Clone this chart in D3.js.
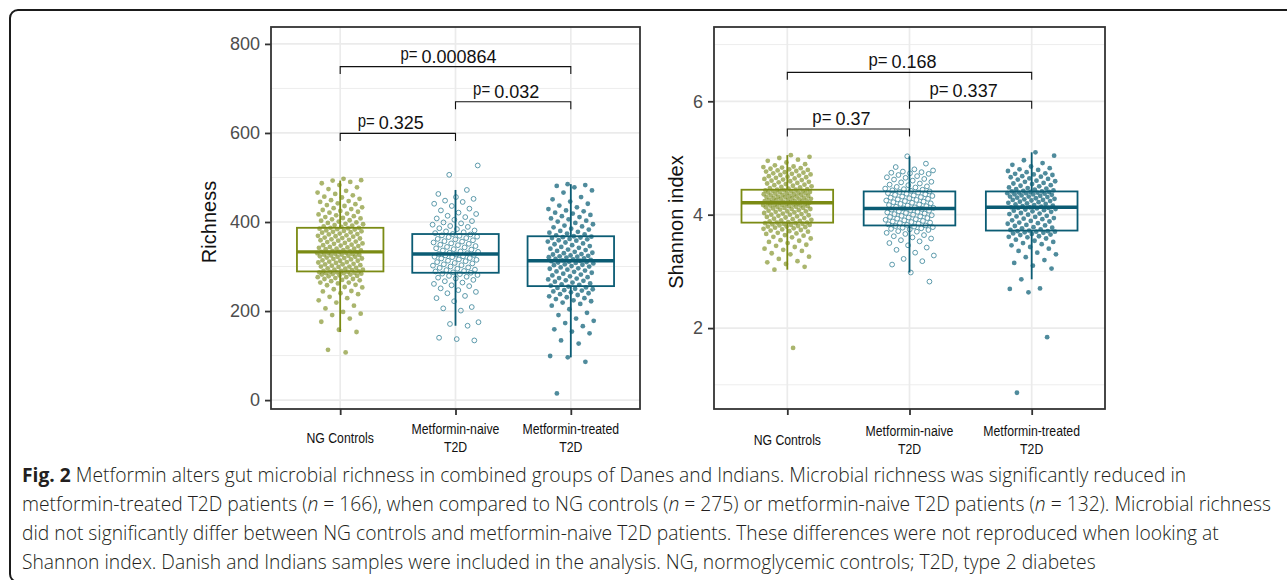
<!DOCTYPE html>
<html>
<head>
<meta charset="utf-8">
<script src="https://cdn.jsdelivr.net/npm/d3@7"></script>
<style>
  body { margin: 0; background: #fff; }
  svg { display: block; }
</style>
</head>
<body>
<div id="chart"></div>
<script>
// ---------- data ----------
const categories = ["NG Controls", "Metformin-naive T2D", "Metformin-treated T2D"];
const categoryLines = [["NG Controls"], ["Metformin-naive", "T2D"], ["Metformin-treated", "T2D"]];

// Richness
const richTicks = [0, 200, 400, 600, 800];
const richMinor = [100, 300, 500, 700];
const richLow = [153, 167, 96];
const richQ1 = [289, 286, 256];
const richMed = [333, 328, 313];
const richQ3 = [387, 373, 368];
const richHigh = [493, 472, 485];
const richPairs = [[0, 1], [1, 2], [0, 2]];
const richP = ["0.325", "0.032", "0.000864"];
const richBracketAt = [599, 670, 749];

const richNG = [107,113,153,158,176,183,191,194,198,206,212,219,224,229,232,238,240,244,245,249,253,254,258,259,262,264,264,267,269,270,272,272,274,276,276,278,279,280,282,282,283,284,285,285,286,287,287,288,288,289,
  290,290,292,293,293,295,296,297,299,300,300,302,303,305,305,306,308,309,310,311,313,313,314,316,317,318,319,320,322,322,323,324,325,326,327,327,328,329,330,331,331,332,333,333,334,
  335,336,337,339,340,340,342,343,344,346,347,348,349,351,352,353,355,356,358,359,360,361,363,364,365,367,368,369,370,372,373,374,376,377,378,379,380,381,383,384,385,386,387,387,
  389,390,392,393,395,396,398,399,401,403,404,406,408,409,411,413,415,417,419,421,423,425,427,429,431,433,436,438,440,442,445,447,449,452,455,457,460,463,466,470,474,478,483,487,490,493,494,497];
const richNaive = [134,137,140,167,171,175,201,206,209,222,229,234,240,243,247,251,256,258,261,264,267,270,273,275,277,279,281,283,284,286,
  287,289,290,292,293,295,297,298,300,302,303,305,307,308,310,312,313,315,316,318,319,321,322,323,325,326,327,328,
  330,331,333,334,336,338,339,341,343,344,346,348,349,351,352,354,356,357,359,361,362,364,366,367,369,370,372,373,
  375,377,379,381,384,386,389,391,394,397,399,402,405,408,411,414,418,421,426,430,436,441,445,448,452,456,463,472,506,527];
const richTreated = [15,86,96,99,127,134,150,154,159,166,173,178,183,191,196,204,212,216,219,222,224,227,229,231,233,236,238,240,242,244,246,247,249,250,252,253,255,
  257,259,260,262,264,266,268,269,271,273,274,276,278,280,282,284,286,288,289,291,293,295,296,298,300,301,303,304,305,307,308,309,310,311,312,313,
  314,315,316,317,318,320,321,322,323,324,325,327,328,330,331,333,335,337,338,340,342,344,346,348,350,352,354,356,358,359,361,362,364,365,366,367,368,
  370,372,374,376,378,380,383,385,388,390,392,395,398,401,403,406,408,411,413,416,419,421,424,426,429,433,437,441,446,451,456,466,471,478,481,483,485];

// Shannon index
const shanTicks = [2, 4, 6];
const shanMinor = [1, 3, 5, 7];
const shanLow = [3.03, 2.98, 2.86];
const shanQ1 = [3.86, 3.81, 3.72];
const shanMed = [4.21, 4.11, 4.13];
const shanQ3 = [4.44, 4.41, 4.41];
const shanHigh = [5.05, 5.03, 5.10];
const shanPairs = [[0, 1], [1, 2], [0, 2]];
const shanP = ["0.37", "0.337", "0.168"];
const shanBracketAt = [5.51, 6.0, 6.51];

const shanNG = [1.65,3.03,3.08,3.13,3.16,3.18,3.22,3.26,3.30,3.32,3.36,3.38,3.40,3.43,3.45,3.47,3.50,3.52,3.54,3.55,3.58,3.60,3.61,3.63,3.64,3.66,3.67,3.68,3.70,3.71,3.72,3.73,3.74,3.75,3.76,3.77,3.78,3.79,3.79,3.80,3.81,3.82,3.82,3.83,3.84,3.84,3.85,3.85,3.86,3.86,
  3.87,3.88,3.89,3.90,3.91,3.92,3.93,3.94,3.95,3.96,3.97,3.98,3.99,4.00,4.00,4.01,4.02,4.03,4.04,4.05,4.06,4.06,4.07,4.08,4.09,4.10,4.10,4.11,4.12,4.12,4.13,4.14,4.14,4.15,4.15,4.16,4.16,4.17,4.17,4.18,4.18,4.19,4.19,4.20,4.20,4.21,
  4.21,4.22,4.22,4.23,4.23,4.24,4.24,4.25,4.25,4.26,4.26,4.27,4.28,4.28,4.29,4.29,4.30,4.31,4.31,4.32,4.32,4.33,4.33,4.34,4.35,4.35,4.36,4.36,4.37,4.38,4.38,4.39,4.39,4.40,4.40,4.41,4.42,4.42,4.43,4.43,4.44,4.44,
  4.45,4.46,4.47,4.48,4.49,4.50,4.51,4.52,4.53,4.54,4.55,4.56,4.57,4.58,4.59,4.60,4.61,4.62,4.63,4.64,4.65,4.66,4.67,4.68,4.69,4.70,4.71,4.72,4.73,4.74,4.75,4.76,4.77,4.78,4.79,4.80,4.81,4.82,4.83,4.84,4.85,4.87,4.89,4.92,4.95,4.97,5.00,5.02,5.05];
const shanNaive = [2.82,2.98,3.12,3.18,3.22,3.28,3.33,3.38,3.42,3.46,3.50,3.53,3.55,3.58,3.60,3.62,3.64,3.66,3.68,3.70,3.71,3.73,3.74,3.75,3.76,3.77,3.78,3.79,3.80,3.81,
  3.82,3.83,3.84,3.85,3.86,3.87,3.88,3.89,3.90,3.91,3.92,3.93,3.94,3.95,3.96,3.97,3.98,3.99,4.00,4.01,4.02,4.03,4.04,4.05,4.06,4.07,4.08,4.09,4.10,4.11,
  4.12,4.13,4.14,4.15,4.16,4.17,4.18,4.19,4.20,4.21,4.22,4.23,4.24,4.25,4.26,4.27,4.28,4.29,4.30,4.31,4.32,4.33,4.34,4.35,4.36,4.37,4.38,4.39,4.40,4.41,
  4.42,4.43,4.44,4.45,4.46,4.48,4.49,4.50,4.52,4.53,4.55,4.57,4.58,4.60,4.62,4.63,4.65,4.66,4.68,4.70,4.72,4.73,4.74,4.75,4.76,4.78,4.80,4.84,4.90,5.03];
const shanTreated = [0.86,1.84,2.63,2.69,2.70,2.86,3.05,3.10,3.15,3.20,3.25,3.30,3.33,3.36,3.40,3.43,3.46,3.48,3.50,3.52,3.54,3.56,3.58,3.60,3.61,3.62,3.64,3.65,3.66,3.67,3.68,3.69,3.70,3.70,3.71,3.71,3.72,
  3.73,3.74,3.76,3.77,3.78,3.80,3.81,3.82,3.84,3.85,3.86,3.88,3.89,3.90,3.92,3.93,3.94,3.96,3.97,3.98,4.00,4.01,4.02,4.03,4.05,4.06,4.07,4.08,4.09,4.10,4.11,4.12,4.12,4.13,4.13,
  4.14,4.15,4.16,4.17,4.18,4.19,4.20,4.21,4.22,4.23,4.24,4.25,4.26,4.26,4.27,4.28,4.29,4.30,4.31,4.32,4.32,4.33,4.34,4.35,4.36,4.36,4.37,4.38,4.38,4.39,4.39,4.40,4.40,4.41,4.41,
  4.42,4.43,4.44,4.45,4.46,4.47,4.48,4.50,4.51,4.52,4.54,4.55,4.56,4.58,4.59,4.60,4.62,4.63,4.64,4.66,4.67,4.68,4.70,4.71,4.72,4.73,4.75,4.77,4.79,4.80,4.82,4.85,4.88,4.91,4.96,5.04,5.10];

// caption
const captionLines = [
  [["Fig. 2", "b"], [" Metformin alters gut microbial richness in combined groups of Danes and Indians. Microbial richness was significantly reduced in", ""]],
  [["metformin-treated T2D patients (", ""], ["n", "i"], [" = 166), when compared to NG controls (", ""], ["n", "i"], [" = 275) or metformin-naive T2D patients (", ""], ["n", "i"], [" = 132). Microbial richness", ""]],
  [["did not significantly differ between NG controls and metformin-naive T2D patients. These differences were not reproduced when looking at", ""]],
  [["Shannon index. Danish and Indians samples were included in the analysis. NG, normoglycemic controls; T2D, type 2 diabetes", ""]]
];

// ---------- drawing ----------
const W = 1287, H = 580;
const FONT = "'Liberation Sans', Arial, sans-serif";
const boxStroke = ["#7b8b14", "#0b5c74", "#0b5c74"];
const pointFill = ["#7d8d1f", "#1d6a80", "#1d6a80"];
const hollow = [false, true, false];

const svg = d3.select("#chart").append("svg").attr("width", W).attr("height", H);
svg.append("rect").attr("width", W).attr("height", H).attr("fill", "#fff");

// rounded frame around the figure
svg.append("path")
  .attr("d", "M18,582 A8,8 0 0 1 10,574 V18 A8,8 0 0 1 18,10 H1290")
  .attr("fill", "none")
  .attr("stroke", "#1b1b1b")
  .attr("stroke-width", 2);

// golden-ratio jitter, like geom_jitter(width = 0.2)
const jitter = (i, gi) => (((i + 1) * 0.6180339887 + gi * 0.29) % 1) * 2 - 1;

function drawPanel(p) {
  const g = svg.append("g");
  const x = d3.scalePoint().domain(categories).range([p.x0, p.x1]).padding(0.6);
  const y = d3.scaleLinear().domain(p.domain).range([p.y1, p.y0]);
  const step = x.step();

  // grid
  g.append("g").selectAll("line").data(p.minor).join("line")
    .attr("x1", p.x0).attr("x2", p.x1)
    .attr("y1", d => y(d)).attr("y2", d => y(d))
    .attr("stroke", "#ededed").attr("stroke-width", 1);
  g.append("g").selectAll("line").data(p.ticks).join("line")
    .attr("x1", p.x0).attr("x2", p.x1)
    .attr("y1", d => y(d)).attr("y2", d => y(d))
    .attr("stroke", "#ebebeb").attr("stroke-width", 1.7);
  g.append("g").selectAll("line").data(categories).join("line")
    .attr("x1", d => x(d)).attr("x2", d => x(d))
    .attr("y1", p.y0).attr("y2", p.y1)
    .attr("stroke", "#ebebeb").attr("stroke-width", 1.7);

  // jittered points
  p.values.forEach((vals, gi) => {
    const cx = x(categories[gi]);
    const pts = g.append("g").selectAll("circle").data(vals).join("circle")
      .attr("cx", (d, i) => cx + jitter(i, gi) * 0.2 * step)
      .attr("cy", d => y(d))
      .attr("r", 2.4);
    if (hollow[gi]) {
      pts.attr("fill", "none").attr("stroke", "#4b8ea2").attr("stroke-width", 0.9);
    } else {
      pts.attr("fill", pointFill[gi]).attr("fill-opacity", gi === 0 ? 0.65 : 0.78);
    }
  });

  // boxplots (no fill, no staples)
  const bw = 0.75 * step;
  categories.forEach((c, gi) => {
    const cx = x(c);
    const bg = g.append("g").attr("stroke", boxStroke[gi]).attr("fill", "none");
    bg.append("line").attr("x1", cx).attr("x2", cx)
      .attr("y1", y(p.q3[gi])).attr("y2", y(p.high[gi])).attr("stroke-width", 1.8);
    bg.append("line").attr("x1", cx).attr("x2", cx)
      .attr("y1", y(p.q1[gi])).attr("y2", y(p.low[gi])).attr("stroke-width", 1.8);
    bg.append("rect").attr("x", cx - bw / 2).attr("width", bw)
      .attr("y", y(p.q3[gi])).attr("height", y(p.q1[gi]) - y(p.q3[gi]))
      .attr("stroke-width", 1.8);
    bg.append("line").attr("x1", cx - bw / 2).attr("x2", cx + bw / 2)
      .attr("y1", y(p.med[gi])).attr("y2", y(p.med[gi])).attr("stroke-width", 3.4);
  });

  // significance brackets
  p.pairs.forEach((pr, k) => {
    const xa = x(categories[pr[0]]), xb = x(categories[pr[1]]);
    const yb = y(p.bracketAt[k]);
    g.append("path")
      .attr("d", `M${xa},${yb + 7.5}V${yb}H${xb}V${yb + 7.5}`)
      .attr("fill", "none").attr("stroke", "#111").attr("stroke-width", 1.1);
    const lbl = g.append("g");
    const pt = lbl.append("text").attr("y", yb - 6.5)
      .style("font-family", FONT).style("font-size", "18px").attr("fill", "#111").text("p=");
    const pw = pt.node().getComputedTextLength() * p.pSquash;
    pt.attr("textLength", pw).attr("lengthAdjust", "spacingAndGlyphs");
    const dt = lbl.append("text").attr("y", yb - 4)
      .style("font-family", FONT).style("font-size", "18px").attr("fill", "#111").text(p.pvals[k]);
    const dw = dt.node().getComputedTextLength();
    const total = pw + 4 + dw;
    const start = (xa + xb) / 2 - 7 - total / 2;
    pt.attr("x", start);
    dt.attr("x", start + pw + 4);
  });

  // panel border
  g.append("rect").attr("x", p.x0).attr("y", p.y0)
    .attr("width", p.x1 - p.x0).attr("height", p.y1 - p.y0)
    .attr("fill", "none").attr("stroke", "#333").attr("stroke-width", 1.8);

  // y axis
  const ya = g.append("g").attr("transform", `translate(${p.x0},0)`)
    .call(d3.axisLeft(y).tickValues(p.ticks).tickFormat(d3.format("d")).tickSize(6).tickPadding(5));
  ya.select(".domain").remove();
  ya.selectAll(".tick line").attr("stroke", "#333").attr("stroke-width", 1.8);
  ya.selectAll(".tick text").attr("fill", "#4d4d4d")
    .style("font-family", FONT).style("font-size", "18px");

  // x axis ticks
  const xa = g.append("g").attr("transform", `translate(0,${p.y1})`)
    .call(d3.axisBottom(x).tickSize(6).tickFormat(""));
  xa.select(".domain").remove();
  xa.selectAll(".tick line").attr("stroke", "#333").attr("stroke-width", 1.8);

  // x labels (condensed, two-line ones centred vertically)
  categoryLines.forEach((lines, gi) => {
    const cx = x(categories[gi]);
    lines.forEach((ln, li) => {
      const by = p.labelBase + (li - (lines.length - 1) / 2) * 17.5;
      const t = g.append("text").attr("x", cx).attr("y", by)
        .attr("text-anchor", "middle").attr("fill", "#111")
        .style("font-family", FONT).style("font-size", "15.5px").text(ln);
      const w = t.node().getComputedTextLength();
      t.attr("textLength", w * 0.79).attr("lengthAdjust", "spacingAndGlyphs");
    });
  });

  // y title
  g.append("text")
    .attr("transform", `translate(${p.titleX},${(p.y0 + p.y1) / 2 + 4}) rotate(-90)`)
    .attr("text-anchor", "middle").attr("fill", "#111")
    .style("font-family", FONT).style("font-size", "20px")
    .text(p.title);
}

drawPanel({
  x0: 271, x1: 640, y0: 27, y1: 409, domain: [-20, 838],
  ticks: richTicks, minor: richMinor, title: "Richness", titleX: 216,
  values: [richNG, richNaive, richTreated],
  low: richLow, q1: richQ1, med: richMed, q3: richQ3, high: richHigh,
  pairs: richPairs, pvals: richP, bracketAt: richBracketAt, pSquash: 0.83,
  labelBase: 443
});

drawPanel({
  x0: 714, x1: 1105, y0: 27, y1: 409, domain: [0.573, 7.31],
  ticks: shanTicks, minor: shanMinor, title: "Shannon index", titleX: 683,
  values: [shanNG, shanNaive, shanTreated],
  low: shanLow, q1: shanQ1, med: shanMed, q3: shanQ3, high: shanHigh,
  pairs: shanPairs, pvals: shanP, bracketAt: shanBracketAt, pSquash: 0.93,
  labelBase: 445
});

// caption
const cap = svg.append("g").style("font-family", "'Open Sans', 'Noto Sans', sans-serif").attr("fill", "#231f20");
const capNodes = captionLines.map((segs, li) => {
  const t = cap.append("text").attr("x", 22).attr("y", 482 + li * 29)
    .style("font-size", "17px").attr("font-weight", 300);
  segs.forEach(s => {
    const ts = t.append("tspan").text(s[0]);
    if (s[1] === "b") ts.attr("font-weight", "bold");
    if (s[1] === "i") ts.attr("font-style", "italic");
  });
  return t;
});
const fs = 17 * 1250 / capNodes[1].node().getComputedTextLength();
capNodes.forEach(t => t.style("font-size", fs + "px"));
</script>
</body>
</html>
